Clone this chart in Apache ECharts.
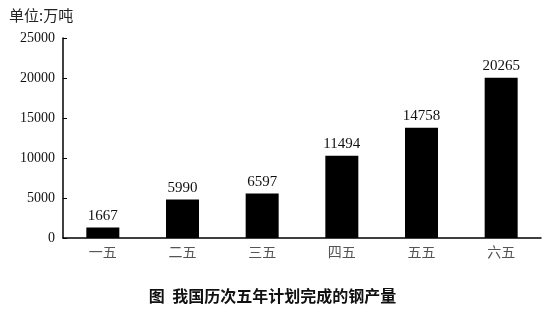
<!DOCTYPE html>
<html><head><meta charset="utf-8">
<script src="https://cdn.jsdelivr.net/npm/echarts@6/dist/echarts.min.js"></script>
<style>html,body{margin:0;padding:0;background:#fff}#c{width:545px;height:309px}</style>
</head><body><div id="c"></div>
<script>
const categories = ['一五','二五','三五','四五','五五','六五'];
const barHeights = [1310, 4810, 5560, 10280, 13780, 20030];
const labelValues = [1667, 5990, 6597, 11494, 14758, 20265];
const yTicks = [0, 5000, 10000, 15000, 20000, 25000];

const serif = '"Liberation Serif","DejaVu Serif",serif';
const cjk = '"Noto Sans CJK SC",sans-serif';
const chart = echarts.init(document.getElementById('c'), null, {renderer:'canvas'});
chart.setOption({
  animation:false,
  backgroundColor:'#fff',
  title:[
    {text:'单位:万吨', left:4, top:3, textStyle:{fontFamily:cjk, fontSize:15, fontWeight:'normal', color:'#222'}},
    {text:'图  我国历次五年计划完成的钢产量', left:'center', top:283, textStyle:{fontFamily:cjk, fontSize:16, fontWeight:'bold', color:'#111'}}
  ],
  grid:{left:63, right:4, top:38, bottom:71},
  xAxis:{
    type:'category', data:categories,
    axisLine:{lineStyle:{color:'#000', width:1.5}},
    axisTick:{inside:true, length:4, lineStyle:{color:'#000'}},
    axisLabel:{fontFamily:cjk, fontSize:14, color:'#555', margin:7}
  },
  yAxis:{
    type:'value', min:yTicks[0], max:yTicks[yTicks.length-1], interval:5000,
    axisLine:{show:true, lineStyle:{color:'#000', width:1.5}},
    axisTick:{show:true, inside:true, length:4, lineStyle:{color:'#000'}},
    splitLine:{show:false},
    axisLabel:{fontFamily:serif, fontSize:14, color:'#111', margin:8, formatter:v=>String(v)}
  },
  series:[{
    type:'bar', data:barHeights, barWidth:33,
    itemStyle:{color:'#000'},
    label:{show:true, position:'top', distance:4, fontFamily:serif, fontSize:15, color:'#111',
      formatter:p=>String(labelValues[p.dataIndex])}
  }]
});
</script></body></html>
